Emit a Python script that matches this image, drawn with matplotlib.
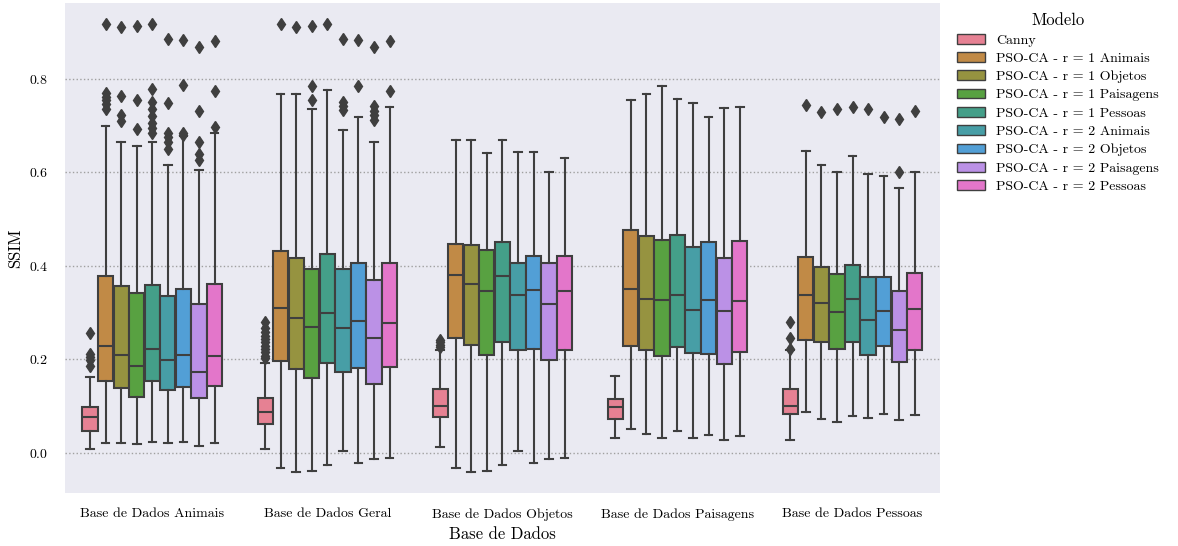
"""Box plots of SSIM scores per database for the Canny and PSO-CA models."""

import matplotlib.pyplot as plt
from matplotlib.patches import Patch
import seaborn as sns

DATABASES = ['Base de Dados Animais', 'Base de Dados Geral', 'Base de Dados Objetos',
             'Base de Dados Paisagens', 'Base de Dados Pessoas']
MODELS = ['Canny',
          'PSO-CA - r = 1 Animais', 'PSO-CA - r = 1 Objetos',
          'PSO-CA - r = 1 Paisagens', 'PSO-CA - r = 1 Pessoas',
          'PSO-CA - r = 2 Animais', 'PSO-CA - r = 2 Objetos',
          'PSO-CA - r = 2 Paisagens', 'PSO-CA - r = 2 Pessoas']

# one row per database, one column per model
Q3 = [
    [0.098, 0.379, 0.356, 0.342, 0.359, 0.336, 0.351, 0.319, 0.361],
    [0.118, 0.431, 0.416, 0.394, 0.426, 0.393, 0.406, 0.369, 0.406],
    [0.137, 0.446, 0.445, 0.434, 0.451, 0.406, 0.421, 0.406, 0.420],
    [0.115, 0.477, 0.464, 0.456, 0.466, 0.441, 0.451, 0.417, 0.452],
    [0.136, 0.418, 0.397, 0.383, 0.401, 0.376, 0.376, 0.347, 0.384],
]
MEDIAN = [
    [0.076, 0.229, 0.210, 0.186, 0.223, 0.199, 0.209, 0.173, 0.207],
    [0.088, 0.310, 0.289, 0.270, 0.298, 0.266, 0.281, 0.245, 0.277],
    [0.101, 0.381, 0.362, 0.347, 0.378, 0.337, 0.348, 0.318, 0.346],
    [0.098, 0.350, 0.329, 0.327, 0.337, 0.306, 0.326, 0.303, 0.325],
    [0.101, 0.337, 0.320, 0.301, 0.329, 0.284, 0.304, 0.263, 0.307],
]
Q1 = [
    [0.046, 0.154, 0.138, 0.120, 0.153, 0.135, 0.141, 0.118, 0.142],
    [0.062, 0.197, 0.180, 0.161, 0.192, 0.172, 0.181, 0.148, 0.183],
    [0.076, 0.245, 0.231, 0.210, 0.238, 0.219, 0.222, 0.198, 0.220],
    [0.073, 0.229, 0.219, 0.208, 0.227, 0.213, 0.212, 0.189, 0.216],
    [0.082, 0.242, 0.238, 0.223, 0.236, 0.209, 0.228, 0.195, 0.219],
]
WHISKER_HI = [
    [0.163, 0.698, 0.665, 0.657, 0.665, 0.616, 0.677, 0.605, 0.683],
    [0.192, 0.767, 0.767, 0.736, 0.776, 0.691, 0.719, 0.664, 0.739],
    [0.220, 0.669, 0.669, 0.642, 0.669, 0.643, 0.644, 0.600, 0.630],
    [0.165, 0.755, 0.768, 0.785, 0.757, 0.748, 0.718, 0.737, 0.739],
    [0.220, 0.645, 0.616, 0.600, 0.635, 0.597, 0.593, 0.566, 0.600],
]
WHISKER_LO = [
    [0.008, 0.022, 0.020, 0.019, 0.024, 0.021, 0.023, 0.015, 0.022],
    [0.008, -0.033, -0.042, -0.038, -0.026, 0.003, -0.021, -0.014, -0.012],
    [0.013, -0.033, -0.042, -0.038, -0.026, 0.003, -0.021, -0.014, -0.012],
    [0.031, 0.052, 0.041, 0.031, 0.047, 0.032, 0.039, 0.028, 0.036],
    [0.028, 0.087, 0.072, 0.066, 0.079, 0.075, 0.084, 0.071, 0.080],
]
FLIERS = [
    [[0.256, 0.212, 0.205, 0.198, 0.185],
     [0.917, 0.770, 0.762, 0.755, 0.745, 0.735],
     [0.911, 0.764, 0.723, 0.709],
     [0.912, 0.754, 0.693],
     [0.917, 0.778, 0.750, 0.735, 0.720, 0.706, 0.695, 0.685],
     [0.886, 0.748, 0.685, 0.675, 0.665, 0.650],
     [0.883, 0.786, 0.685, 0.680],
     [0.868, 0.730, 0.664, 0.640, 0.627],
     [0.880, 0.774, 0.696]],
    [[0.279, 0.268, 0.258, 0.250, 0.243, 0.236, 0.229, 0.222, 0.215, 0.208, 0.202],
     [0.917],
     [0.911],
     [0.912, 0.785, 0.754],
     [0.917],
     [0.886, 0.751, 0.742, 0.734],
     [0.883, 0.785],
     [0.868, 0.741, 0.731, 0.722, 0.712],
     [0.880, 0.774]],
    [[0.241, 0.236, 0.231, 0.226], [], [], [], [], [], [], [], []],
    [[], [], [], [], [], [], [], [], []],
    [[0.279, 0.245, 0.222],
     [0.743], [0.728], [0.736], [0.739], [0.735], [0.718],
     [0.714, 0.600], [0.731]],
]

plt.rcParams['font.family'] = 'serif'
plt.rcParams['font.serif'] = ['cmr10']
plt.rcParams['mathtext.fontset'] = 'cm'
plt.rcParams['axes.formatter.use_mathtext'] = True

LINE_GRAY = '#3f3f3f'
colors = sns.color_palette('husl', len(MODELS), desat=0.75)

fig = plt.figure(figsize=(11.78, 5.46), dpi=100)
ax = fig.add_axes([0.055, 0.097, 0.743, 0.8975])
ax.set_facecolor('#EAEAF2')
for spine in ax.spines.values():
    spine.set_visible(False)

n_models = len(MODELS)
width = 0.8 / n_models
for g in range(len(DATABASES)):
    for m in range(n_models):
        stats = [dict(med=MEDIAN[g][m], q1=Q1[g][m], q3=Q3[g][m],
                      whislo=WHISKER_LO[g][m], whishi=WHISKER_HI[g][m],
                      fliers=FLIERS[g][m])]
        pos = g + (m - (n_models - 1) / 2) * width
        ax.bxp(stats, positions=[pos], widths=width * 0.98, patch_artist=True,
               manage_ticks=False,
               boxprops=dict(facecolor=colors[m], edgecolor=LINE_GRAY, linewidth=1.5),
               medianprops=dict(color=LINE_GRAY, linewidth=1.5),
               whiskerprops=dict(color=LINE_GRAY, linewidth=1.5),
               capprops=dict(color=LINE_GRAY, linewidth=1.5),
               flierprops=dict(marker='d', markersize=6, markerfacecolor=LINE_GRAY,
                               markeredgecolor=LINE_GRAY, linestyle='none'))

ax.set_xlim(-0.5, len(DATABASES) - 0.5)
ax.set_ylim(-0.086, 0.962)
ax.set_xticks(range(len(DATABASES)))
ax.set_xticklabels(DATABASES)
ax.set_yticks([0.0, 0.2, 0.4, 0.6, 0.8])
ax.tick_params(axis='both', length=0, labelsize=10, pad=11)
ax.tick_params(axis='y', pad=12)
ax.yaxis.grid(True, linestyle=':', color='#a0a0a0', linewidth=1.0)
ax.xaxis.grid(False)
ax.set_axisbelow(True)
ax.set_xlabel('Base de Dados', fontsize=12, labelpad=4)
ax.set_ylabel('SSIM', fontsize=12, labelpad=4)

handles = [Patch(facecolor=c, edgecolor=LINE_GRAY, linewidth=1.0, label=l)
           for c, l in zip(colors, MODELS)]
leg = ax.legend(handles=handles, title='Modelo', loc='upper left',
                bbox_to_anchor=(1.005, 1.005), frameon=False, fontsize=10,
                title_fontsize=12, handlelength=2.0, labelspacing=0.4)

fig.savefig('out.png', dpi=100)
